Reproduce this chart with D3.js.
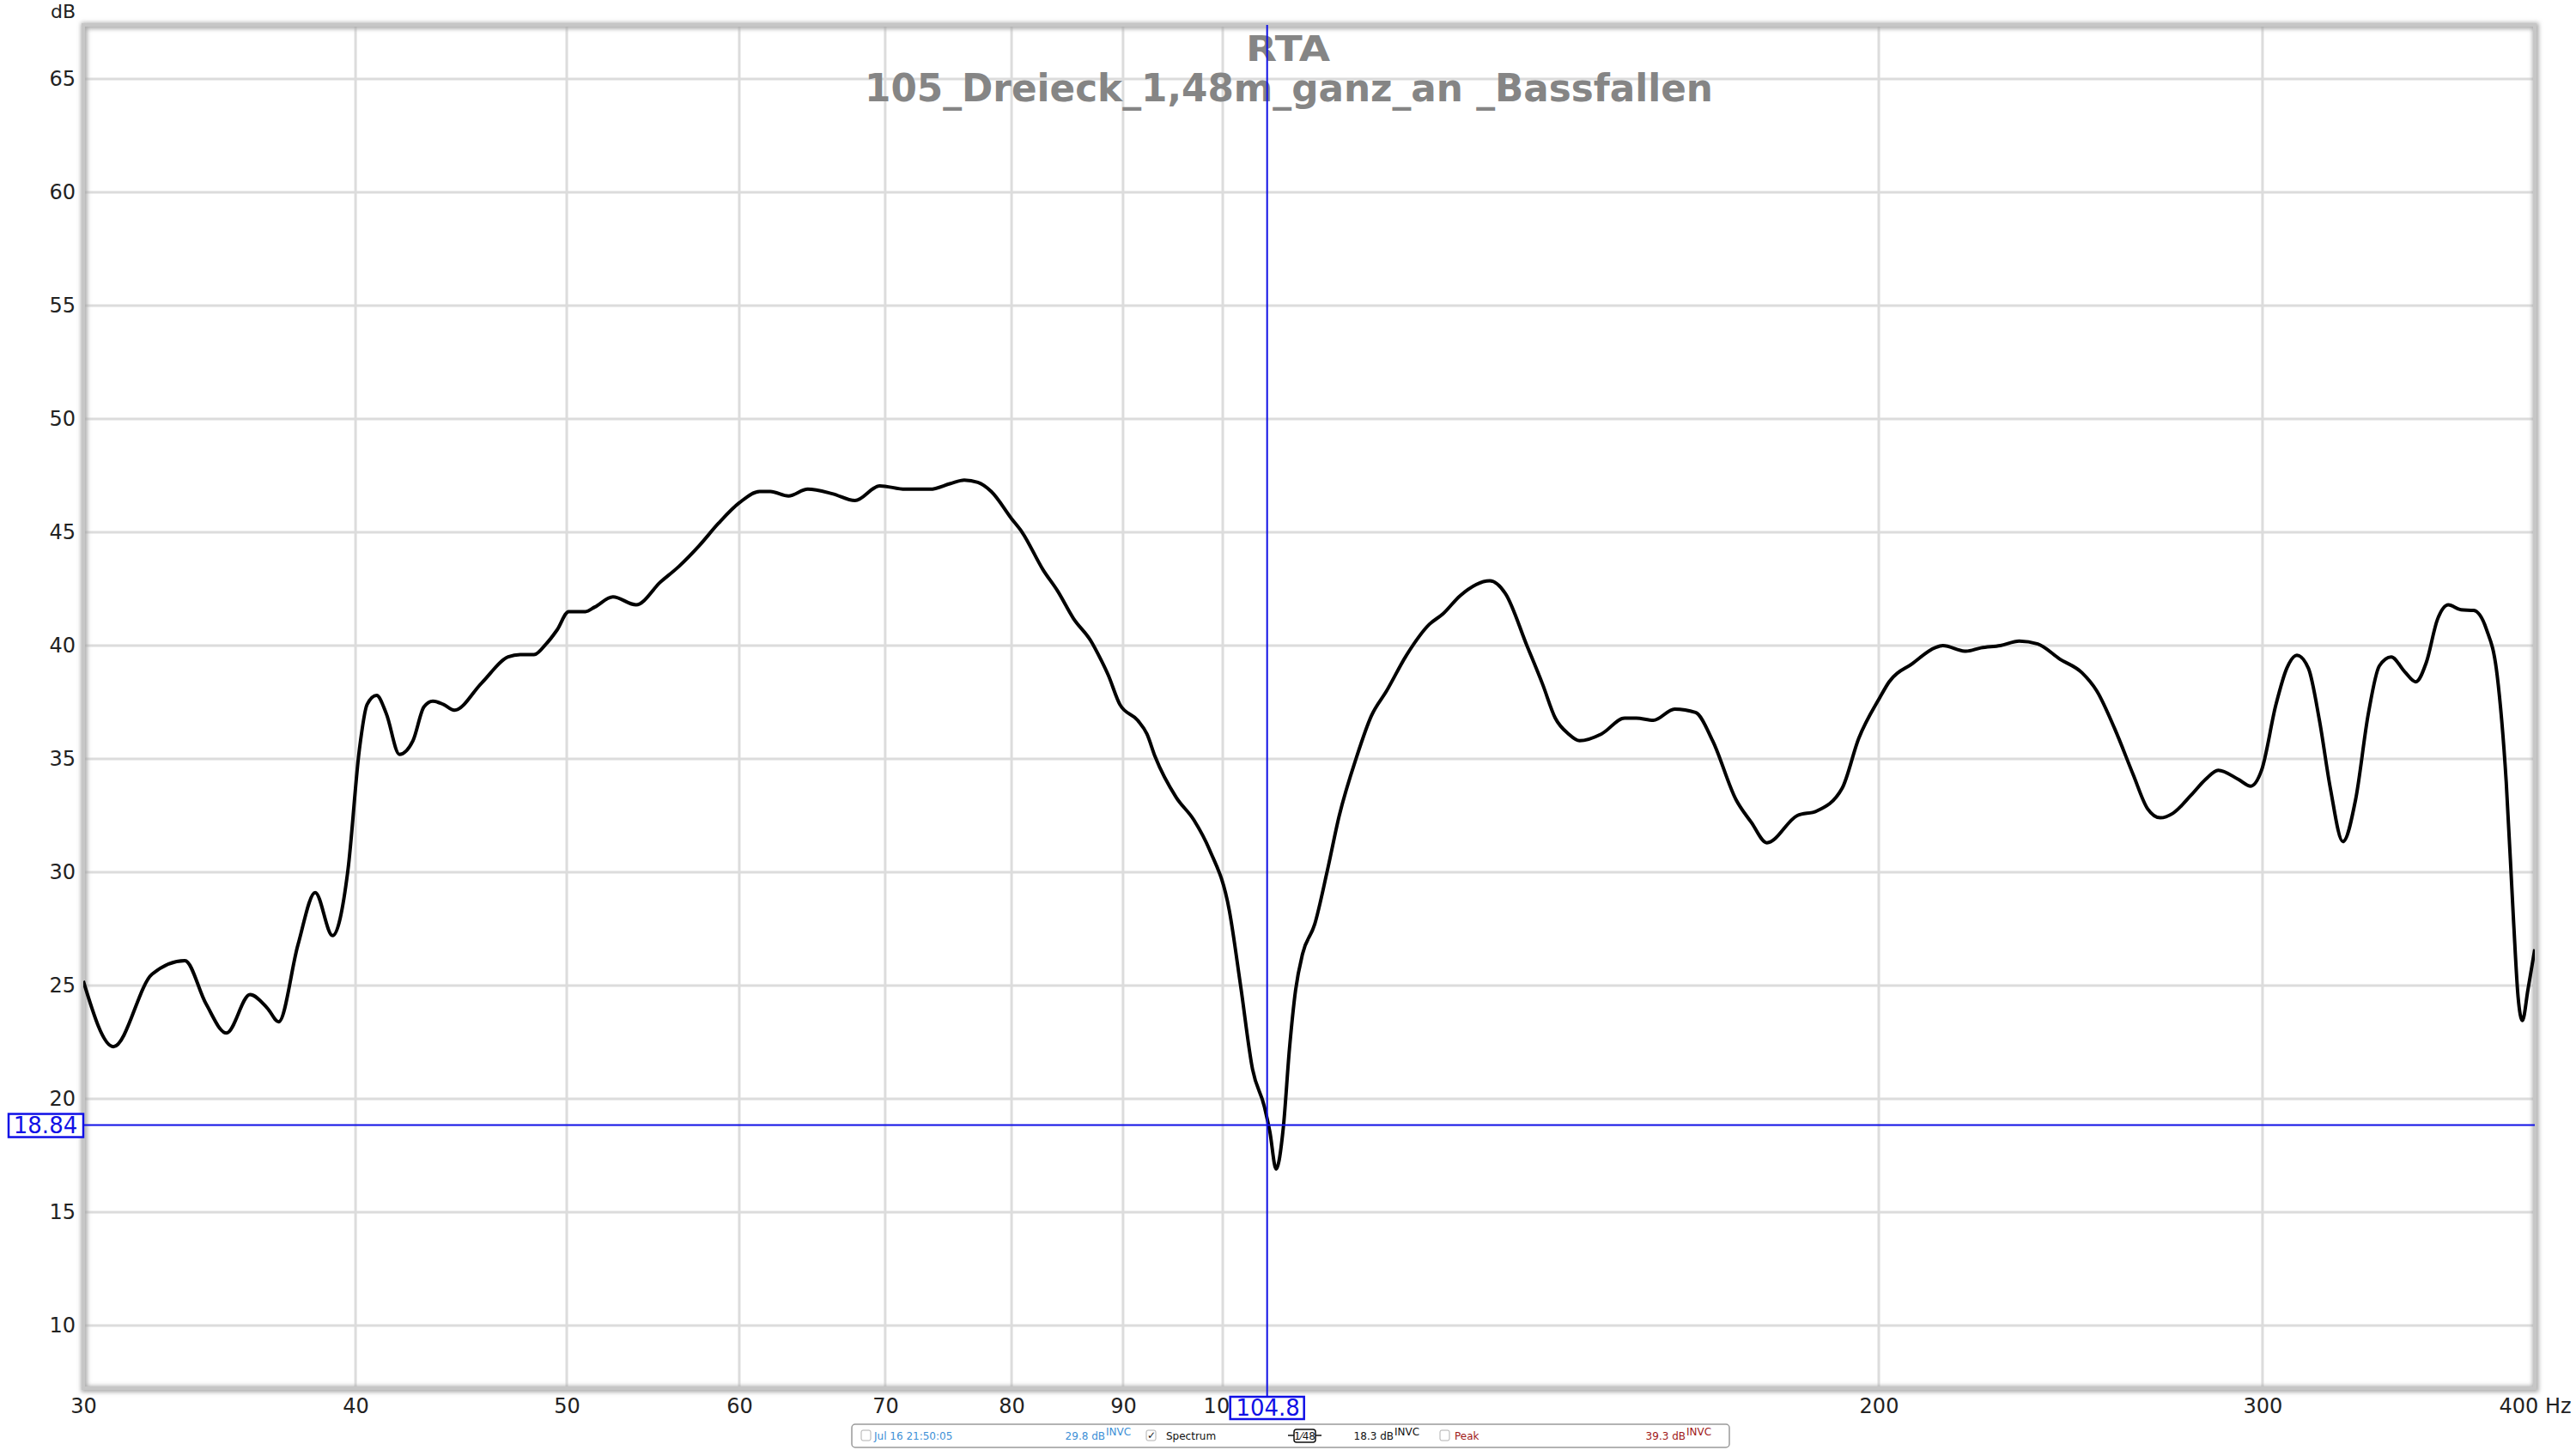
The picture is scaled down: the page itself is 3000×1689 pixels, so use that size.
<!DOCTYPE html>
<html lang="en">
<head>
<meta charset="UTF-8">
<script src="https://cdn.jsdelivr.net/npm/d3@7"></script>
<title>RTA</title>
<style>
    body { margin: 0; background: white; }
    svg { display: block; font-family: "DejaVu Sans", "Noto Sans", sans-serif; }
    .legend text { font-size: 12px; }
</style>
</head>
<body>
<div id="chart"></div>
<script>
// spectrum (Hz / dB)
const freqHz = [30.0, 30.97, 32.26, 33.4, 34.15, 34.9, 35.78, 36.44, 36.88, 37.64, 38.33, 39.04, 39.68,
    40.16, 40.49, 40.9, 41.32, 41.9, 42.5, 43.0, 43.4, 43.9, 44.4, 45.7, 47.0, 47.6, 48.3, 48.9, 49.5,
    50.1, 51.0, 51.5, 52.5, 53.8, 55.2, 56.3, 57.5, 58.7, 60.0, 61.3, 62.0, 63.2, 64.5, 66.2, 67.8, 69.6,
    71.5, 73.4, 75.0, 76.1, 77.2, 78.3, 80.0, 80.9, 82.7, 84.0, 85.4, 87.0, 88.0, 88.6, 89.7, 91.4, 92.3,
    93.1, 95.2, 97.0, 98.6, 100.7, 101.9, 103.2, 104.5, 105.1, 105.8, 106.6, 107.3, 108.0, 108.8, 110.2,
    111.7, 113.1, 115.2, 117.0, 118.9, 121.4, 124.4, 126.2, 128.5, 132.6, 134.8, 137.9, 140.2, 142.1,
    144.1, 145.8, 149.2, 152.9, 154.8, 157.6, 161.2, 164.8, 167.8, 172.0, 174.8, 177.7, 183.5, 187.3,
    192.4, 195.8, 200.2, 202.2, 207.2, 212.2, 214.0, 219.3, 222.8, 227.4, 232.0, 236.6, 242.2, 247.9,
    251.8, 256.7, 261.7, 265.7, 269.3, 272.9, 278.2, 282.5, 286.3, 292.4, 296.3, 299.7, 304.3, 307.8,
    311.1, 314.9, 318.6, 322.3, 326.6, 331.0, 335.5, 339.4, 343.7, 348.6, 352.7, 356.7, 360.9, 365.1,
    370.0, 375.0, 380.0, 384.4, 388.1, 391.1, 393.0, 394.8, 397.1, 400.0];
const levelDb = [25.2, 22.3, 25.5, 26.1, 24.2, 22.9, 24.6, 24.0, 23.4, 26.8, 29.1, 27.2, 30.1,
    35.4, 37.4, 37.8, 37.0, 35.2, 35.8, 37.3, 37.55, 37.4, 37.15, 38.35, 39.5, 39.6, 39.6, 40.05, 40.7,
    41.5, 41.5, 41.7, 42.15, 41.8, 42.8, 43.5, 44.4, 45.4, 46.3, 46.8, 46.8, 46.6, 46.9, 46.7, 46.4, 47.05,
    46.9, 46.9, 47.15, 47.3, 47.2, 46.8, 45.6, 45.0, 43.35, 42.4, 41.2, 40.2, 39.3, 38.7, 37.4, 36.7, 36.1,
    35.1, 33.3, 32.3, 31.0, 28.3, 25.0, 21.3, 19.65, 18.55, 16.9, 18.7, 22.2, 24.8, 26.4, 27.7,
    30.1, 32.5, 35.1, 36.9, 38.0, 39.56, 40.94, 41.4, 42.2, 42.86, 42.3, 40.0, 38.3, 36.8,
    36.1, 35.8, 36.1, 36.8, 36.8, 36.7, 37.2, 37.05, 35.8, 33.2, 32.2, 31.3, 32.5, 32.7,
    33.7, 35.9, 37.7, 38.4, 39.2, 39.9, 40.0, 39.75, 39.9, 40.0, 40.2, 40.07, 39.4, 38.8,
    38.0, 36.3, 34.3, 32.8, 32.4, 32.6, 33.4, 34.1, 34.5, 34.1, 33.8, 34.5, 37.4, 39.0,
    39.57, 39.0, 36.7, 33.7, 31.35, 33.2, 37.0, 39.1, 39.5, 38.85, 38.4, 39.26, 41.15, 41.8,
    41.58, 41.55, 40.74, 38.7, 34.0, 27.9, 24.5, 23.45, 24.8, 26.6];

const yTicks = [10, 15, 20, 25, 30, 35, 40, 45, 50, 55, 60, 65];
const xTicks = [30, 40, 50, 60, 70, 80, 90, 100, 200, 300, 400];
const xTickLabels = ["30", "40", "50", "60", "70", "80", "90", "100", "200", "300", "400 Hz"];
const gridHz = [40, 50, 60, 70, 80, 90, 100, 200, 300];

const cursorHz = 104.8;
const cursorDb = 18.84;

const titleLines = ["RTA", "105_Dreieck_1,48m_ganz_an _Bassfallen"];

// legend row under the plot
const legendNames = ["Jul 16 21:50:05", "Spectrum", "Peak"];
const legendLevels = ["29.8", "18.3", "39.3"];
const legendColors = ["#3d8fd6", "#111111", "#a01818"];
const legendChecked = [false, true, false];

const W = 3000, H = 1689;
const plot = { left: 97, top: 29, right: 2952, bottom: 1617 };

const x = d3.scaleLog().domain([30, 400]).range([plot.left, plot.right]);
const y = d3.scaleLinear().domain([7.23, 67.39]).range([plot.bottom, plot.top]);

const svg = d3.select("#chart").append("svg")
    .attr("width", W)
    .attr("height", H)
    .attr("viewBox", `0 0 ${W} ${H}`);

svg.append("rect").attr("width", W).attr("height", H).attr("fill", "white");

const defs = svg.append("defs");
const shadow = defs.append("filter").attr("id", "shadow")
    .attr("x", "-2%").attr("y", "-2%").attr("width", "104%").attr("height", "104%");
shadow.append("feGaussianBlur").attr("stdDeviation", 2.5);

defs.append("clipPath").attr("id", "plotclip")
    .append("rect")
    .attr("x", plot.left).attr("y", plot.top)
    .attr("width", plot.right - plot.left).attr("height", plot.bottom - plot.top);

// grid
const grid = svg.append("g").attr("stroke", "#dcdcdc").attr("stroke-width", 3);
grid.selectAll(".hgrid")
    .data(yTicks)
    .enter()
    .append("line")
    .attr("x1", plot.left).attr("x2", plot.right)
    .attr("y1", d => y(d)).attr("y2", d => y(d));
grid.selectAll(".vgrid")
    .data(gridHz)
    .enter()
    .append("line")
    .attr("y1", plot.top).attr("y2", plot.bottom)
    .attr("x1", d => x(d)).attr("x2", d => x(d));

// frame with soft shadow
svg.append("rect")
    .attr("x", plot.left + 1).attr("y", plot.top + 1)
    .attr("width", plot.right - plot.left).attr("height", plot.bottom - plot.top)
    .attr("fill", "none").attr("stroke", "#a8a8a8").attr("stroke-width", 7)
    .attr("filter", "url(#shadow)");
svg.append("rect")
    .attr("x", plot.left).attr("y", plot.top)
    .attr("width", plot.right - plot.left).attr("height", plot.bottom - plot.top)
    .attr("fill", "none").attr("stroke", "#c6c6c6").attr("stroke-width", 4);

// y axis labels
const yAxis = svg.append("g")
    .attr("transform", `translate(${plot.left - 6},0)`)
    .call(d3.axisLeft(y).tickValues(yTicks).tickSize(0).tickPadding(3));
yAxis.select(".domain").remove();
yAxis.selectAll("text")
    .attr("font-size", 24).attr("fill", "#222").attr("font-family", "DejaVu Sans, sans-serif");

svg.append("text")
    .attr("x", 88).attr("y", 21)
    .attr("text-anchor", "end")
    .attr("font-size", 22).attr("fill", "#222")
    .text("dB");

// x axis labels
const xAxis = svg.append("g")
    .attr("transform", `translate(0,${plot.bottom + 8})`)
    .call(d3.axisBottom(x).tickValues(xTicks).tickSize(0).tickPadding(4)
        .tickFormat((d, i) => xTickLabels[i]));
xAxis.select(".domain").remove();
xAxis.selectAll("text")
    .attr("font-size", 24).attr("fill", "#222").attr("font-family", "DejaVu Sans, sans-serif");

// titles
svg.append("text")
    .attr("x", 1500).attr("y", 71)
    .attr("text-anchor", "middle")
    .attr("font-family", "DejaVu Sans Condensed, Liberation Sans Narrow, DejaVu Sans, sans-serif")
    .attr("font-weight", "bold")
    .attr("font-size", 40).attr("fill", "#858585")
    .attr("textLength", 98).attr("lengthAdjust", "spacingAndGlyphs")
    .text(titleLines[0]);
svg.append("text")
    .attr("x", 1501).attr("y", 118)
    .attr("text-anchor", "middle")
    .attr("font-family", "DejaVu Sans Condensed, Liberation Sans Narrow, DejaVu Sans, sans-serif")
    .attr("font-weight", "bold")
    .attr("font-size", 45).attr("fill", "#858585")
    .attr("textLength", 988).attr("lengthAdjust", "spacingAndGlyphs")
    .text(titleLines[1]);

// spectrum curve
const line = d3.line()
    .x(d => x(d[0]))
    .y(d => y(d[1]))
    .curve(d3.curveMonotoneX);

svg.append("path")
    .datum(d3.zip(freqHz, levelDb))
    .attr("clip-path", "url(#plotclip)")
    .attr("d", line)
    .attr("fill", "none")
    .attr("stroke", "#000")
    .attr("stroke-width", 4)
    .attr("stroke-linejoin", "round");

// cursor
const blue = "#1010e6";
const cx = x(cursorHz), cy = y(cursorDb);
svg.append("line")
    .attr("x1", cx).attr("x2", cx)
    .attr("y1", plot.top).attr("y2", 1627)
    .attr("stroke", blue).attr("stroke-width", 2);
svg.append("line")
    .attr("x1", plot.left).attr("x2", plot.right)
    .attr("y1", cy).attr("y2", cy)
    .attr("stroke", blue).attr("stroke-width", 2);

svg.append("rect")
    .attr("x", 10).attr("y", cy - 13)
    .attr("width", 87).attr("height", 27)
    .attr("fill", "white").attr("stroke", blue).attr("stroke-width", 2.5);
svg.append("text")
    .attr("x", 53).attr("y", cy + 9)
    .attr("text-anchor", "middle")
    .attr("font-size", 26).attr("fill", blue)
    .text(cursorDb.toFixed(2));

svg.append("rect")
    .attr("x", cx - 43).attr("y", 1627)
    .attr("width", 86).attr("height", 26)
    .attr("fill", "white").attr("stroke", blue).attr("stroke-width", 2.5);
svg.append("text")
    .attr("x", cx + 1).attr("y", 1649)
    .attr("text-anchor", "middle")
    .attr("font-size", 26).attr("fill", blue)
    .text(cursorHz.toFixed(1));

// legend
const legend = svg.append("g").attr("class", "legend");
legend.append("rect")
    .attr("x", 992).attr("y", 1659)
    .attr("width", 1022).attr("height", 27)
    .attr("rx", 4)
    .attr("fill", "white").attr("stroke", "#9a9a9a").attr("stroke-width", 1.5);

const boxX = [1003, 1335, 1677];
const nameX = [1018, 1358, 1694];
const levelX = [1287, 1623, 1963];
const ty = 1677;

boxX.forEach((bx, i) => {
    legend.append("rect")
        .attr("x", bx).attr("y", ty - 11)
        .attr("width", 11).attr("height", 12)
        .attr("rx", 2)
        .attr("fill", "white").attr("stroke", "#b0b0b0").attr("stroke-width", 1);
    if (legendChecked[i]) {
        legend.append("text")
            .attr("x", bx + 1).attr("y", ty - 1)
            .attr("font-size", 11).attr("fill", "#222")
            .text("\u2713");
    }
    legend.append("text")
        .attr("x", nameX[i]).attr("y", ty)
        .attr("fill", legendColors[i])
        .text(legendNames[i]);
    legend.append("text")
        .attr("x", levelX[i]).attr("y", ty)
        .attr("text-anchor", "end")
        .attr("fill", legendColors[i])
        .text(legendLevels[i] + " dB");
    legend.append("text")
        .attr("x", levelX[i] + 1).attr("y", ty - 5)
        .attr("font-size", 8)
        .attr("fill", legendColors[i])
        .text("INVC");
});

// smoothing badge
legend.append("line")
    .attr("x1", 1500).attr("x2", 1539)
    .attr("y1", 1672).attr("y2", 1672)
    .attr("stroke", "#111").attr("stroke-width", 1.5);
legend.append("rect")
    .attr("x", 1507).attr("y", 1665)
    .attr("width", 25).attr("height", 15)
    .attr("rx", 3)
    .attr("fill", "white").attr("stroke", "#111").attr("stroke-width", 1.5);
legend.append("text")
    .attr("x", 1519.5).attr("y", 1677)
    .attr("text-anchor", "middle")
    .attr("font-size", 9).attr("fill", "#111")
    .text("1\u204448");
</script>
</body>
</html>
